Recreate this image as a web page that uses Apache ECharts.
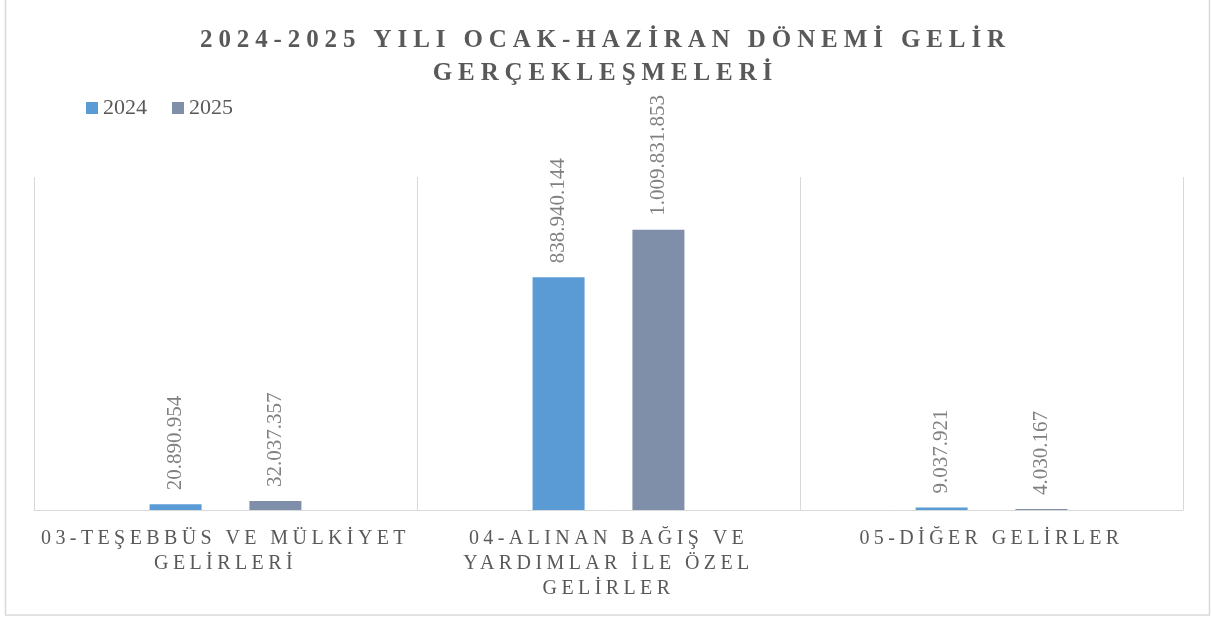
<!DOCTYPE html>
<html>
<head>
<meta charset="utf-8">
<script src="https://cdn.jsdelivr.net/npm/echarts@6/dist/echarts.min.js"></script>
<style>
    html, body { margin: 0; padding: 0; background: #ffffff; }
    #chart { width: 1211px; height: 617px; }
</style>
</head>
<body>
<div id="chart"></div>
<script>
    // veriler
    var categories = [
        '03-TEŞEBBÜS VE MÜLKİYET\nGELİRLERİ',
        '04-ALINAN BAĞIŞ VE\nYARDIMLAR İLE ÖZEL\nGELİRLER',
        '05-DİĞER GELİRLER'
    ];
    var seriesNames = ['2024', '2025'];
    var values2024 = [20890954, 838940144, 9037921];
    var values2025 = [32037357, 1009831853, 4030167];

    var fontName = 'Liberation Serif';

    // başlık ve eksen yazılarında harf aralığı (excel'deki gibi)
    var origFillText = CanvasRenderingContext2D.prototype.fillText;
    CanvasRenderingContext2D.prototype.fillText = function (t, x, y, w) {
        if ('letterSpacing' in this) {
            var f = this.font || '';
            if (f.indexOf('bold') >= 0 && f.indexOf('25px') >= 0) this.letterSpacing = '5.9px';
            else if (f.indexOf('20px') >= 0) this.letterSpacing = '4.4px';
            else this.letterSpacing = '0px';
        }
        return w === undefined ? origFillText.call(this, t, x, y) : origFillText.call(this, t, x, y, w);
    };

    function formatTR(v) {
        return String(v).replace(/\B(?=(\d{3})+(?!\d))/g, '.');
    }

    var barLabel = {
        show: true,
        position: 'top',
        rotate: 90,
        align: 'left',
        verticalAlign: 'middle',
        distance: 14,
        color: '#808080',
        fontSize: 21,
        fontFamily: fontName,
        formatter: function (p) { return formatTR(p.value); }
    };

    var chart = echarts.init(document.getElementById('chart'));

    var options = {
        backgroundColor: '#ffffff',
        animation: false,
        title: {
            text: '2024-2025 YILI OCAK-HAZİRAN DÖNEMİ GELİR\nGERÇEKLEŞMELERİ',
            left: 'center',
            top: 19,
            textStyle: {
                fontSize: 25,
                fontWeight: 'bold',
                fontFamily: fontName,
                color: '#595959',
                lineHeight: 33
            }
        },
        legend: {
            data: seriesNames,
            left: 81,
            top: 92,
            itemWidth: 12,
            itemHeight: 12,
            itemGap: 25,
            icon: 'rect',
            textStyle: {
                fontSize: 22,
                fontFamily: fontName,
                color: '#595959'
            }
        },
        grid: {
            left: 34,
            right: 28,
            top: 177,
            bottom: 107
        },
        xAxis: {
            type: 'category',
            data: categories,
            axisTick: { show: false },
            axisLine: { lineStyle: { color: '#d9d9d9', width: 1 } },
            splitLine: { show: true, lineStyle: { color: '#d9d9d9', width: 1 } },
            axisLabel: {
                interval: 0,
                margin: 16,
                fontSize: 20,
                lineHeight: 25,
                fontFamily: fontName,
                color: '#595959'
            }
        },
        yAxis: {
            type: 'value',
            min: 0,
            max: 1200000000,
            show: false
        },
        graphic: [{
            type: 'rect',
            silent: true,
            shape: { x: 5.5, y: -2, width: 1204, height: 617 },
            style: { fill: 'none', stroke: '#d9d9d9', lineWidth: 1.5 }
        }],
        series: [{
            name: seriesNames[0],
            type: 'bar',
            data: values2024,
            barWidth: 52,
            barGap: '92%',
            itemStyle: { color: '#5b9bd5' },
            label: barLabel
        }, {
            name: seriesNames[1],
            type: 'bar',
            data: values2025,
            barWidth: 52,
            barGap: '92%',
            itemStyle: { color: '#7f8fa9' },
            label: barLabel
        }]
    };

    chart.setOption(options);
</script>
</body>
</html>
